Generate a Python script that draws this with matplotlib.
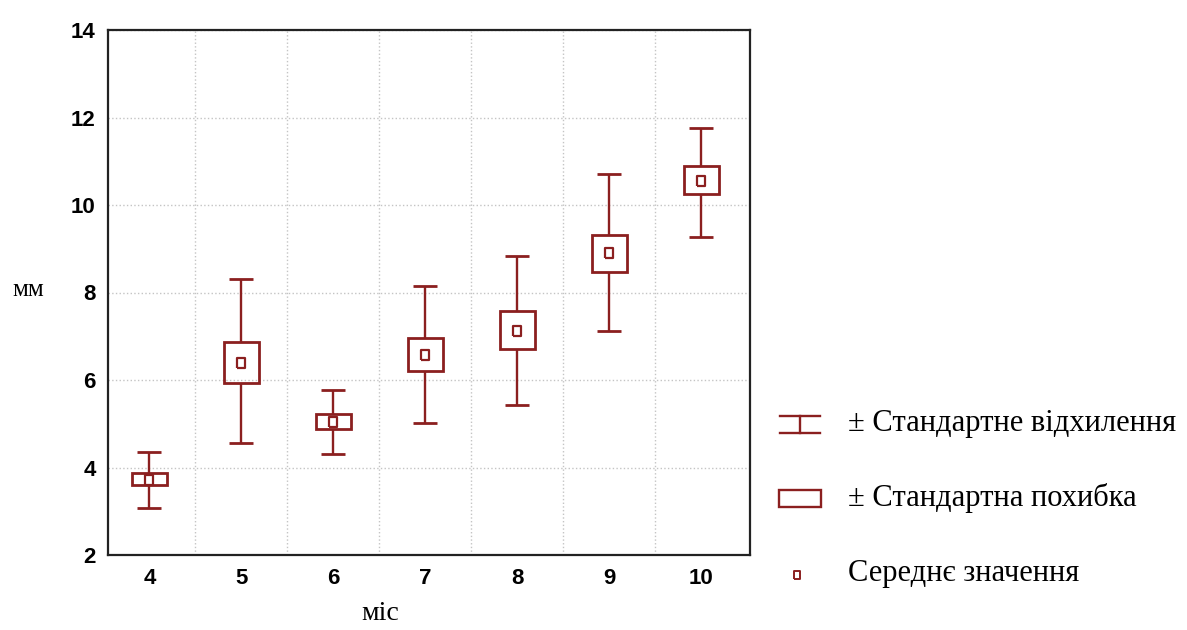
import numpy as np
import matplotlib.pyplot as plt
from matplotlib.patches import Rectangle

# values
months = [4, 5, 6, 7, 8, 9, 10]
mean = [3.72, 6.40, 5.04, 6.58, 7.13, 8.90, 10.55]
se_lo = [3.60, 5.93, 4.88, 6.20, 6.70, 8.48, 10.25]
se_hi = [3.87, 6.87, 5.23, 6.95, 7.57, 9.32, 10.88]
sd_lo = [3.08, 4.57, 4.30, 5.02, 5.43, 7.13, 9.28]
sd_hi = [4.35, 8.32, 5.77, 8.14, 8.84, 10.70, 11.75]

legend_labels = ['± Стандартне відхилення', '± Стандартна похибка', 'Середнє значення']

red = '#8b1f1f'
W, H = 1187, 630

# slightly tall rectangle used for the means
mean_marker = [(-0.78, -1), (0.78, -1), (0.78, 1), (-0.78, 1), (-0.78, -1)]

fig = plt.figure(figsize=(W / 100, H / 100), dpi=100)
ax = fig.add_axes([108 / W, 1 - 555 / H, (750 - 108) / W, (555 - 30) / H])

x = np.array(months)
# whiskers (outside the box only) and caps
ax.vlines(x, sd_lo, se_lo, color=red, lw=1.7, zorder=3)
ax.vlines(x, se_hi, sd_hi, color=red, lw=1.7, zorder=3)
ax.hlines(sd_lo, x - 0.13, x + 0.13, color=red, lw=2, zorder=3)
ax.hlines(sd_hi, x - 0.13, x + 0.13, color=red, lw=2, zorder=3)
# standard error boxes
ax.bar(x, np.array(se_hi) - np.array(se_lo), bottom=se_lo, width=0.38,
       fill=False, edgecolor=red, lw=2, zorder=3)
# means
ax.scatter(x, mean, marker=mean_marker, s=42, facecolor='white', edgecolor=red,
           lw=1.6, zorder=4)

ax.set_xlim(3.55, 10.53)
ax.set_ylim(2, 14)
ax.set_xticks(months)
ax.set_xticks(np.arange(4.5, 10.5, 1), minor=True)
ax.set_yticks(range(2, 15, 2))
ax.grid(True, which='minor', axis='x', ls=':', color='#c4c4c4', lw=1)
ax.grid(True, which='major', axis='y', ls=':', color='#c4c4c4', lw=1)
ax.tick_params(which='both', length=0, pad=9)
for lab in ax.get_xticklabels() + ax.get_yticklabels():
    lab.set_fontweight('bold')
    lab.set_fontsize(16)
    lab.set_family('Liberation Sans')
for s in ax.spines.values():
    s.set_linewidth(1.6)
    s.set_color('#222222')

fig.text(28 / W, 1 - 290 / H, 'мм', family='Liberation Serif', fontsize=18,
         ha='center', va='center')
fig.text(380 / W, 1 - 614 / H, 'міс', family='Liberation Serif', fontsize=20,
         ha='center', va='center')

# legend drawn in its own pixel-based axes
lax = fig.add_axes([0, 0, 1, 1], facecolor='none')
lax.set_xlim(0, W)
lax.set_ylim(H, 0)
lax.axis('off')
ys = [424, 498, 574]
lax.plot([780, 820], [416, 416], color=red, lw=1.7)
lax.plot([780, 820], [433, 433], color=red, lw=1.7)
lax.plot([800, 800], [416, 433], color=red, lw=1.7)
lax.add_patch(Rectangle((779, 490), 42, 17, fill=False, edgecolor=red, lw=1.7))
lax.scatter([797], [575], marker=mean_marker, s=32, facecolor='white', edgecolor=red, lw=1.4)
for yy, t in zip(ys, legend_labels):
    lax.text(848, yy, t, family='Liberation Serif', fontsize=22, va='center', ha='left')

fig.savefig('out.png', dpi=100)
